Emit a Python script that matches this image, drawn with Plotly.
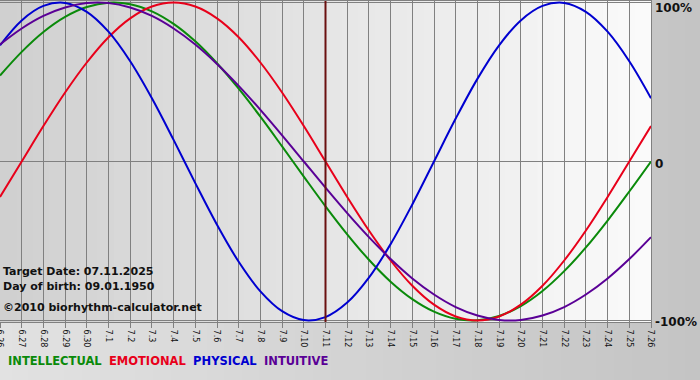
import plotly.graph_objects as go

# ---- data ----
day_labels = ["6.26", "6.27", "6.28", "6.29", "6.30",
              "7.1", "7.2", "7.3", "7.4", "7.5", "7.6", "7.7", "7.8", "7.9", "7.10",
              "7.11", "7.12", "7.13", "7.14", "7.15", "7.16", "7.17", "7.18", "7.19",
              "7.20", "7.21", "7.22", "7.23", "7.24", "7.25", "7.26"]

intellectual = [0.541, 0.690, 0.815, 0.910, 0.972, 0.999, 0.990, 0.945, 0.866, 0.756,
                0.618, 0.458, 0.282, 0.095, -0.095, -0.282, -0.458, -0.618, -0.756, -0.866,
                -0.945, -0.990, -0.999, -0.972, -0.910, -0.815, -0.690, -0.541, -0.372, -0.189,
                0.0]
emotional = [-0.223, 0.0, 0.223, 0.434, 0.623, 0.782, 0.901, 0.975, 1.0, 0.975,
             0.901, 0.782, 0.623, 0.434, 0.223, 0.0, -0.223, -0.434, -0.623, -0.782,
             -0.901, -0.975, -1.0, -0.975, -0.901, -0.782, -0.623, -0.434, -0.223, 0.0,
             0.223]
physical = [0.731, 0.888, 0.979, 0.998, 0.942, 0.817, 0.631, 0.398, 0.136, -0.136,
            -0.398, -0.631, -0.817, -0.942, -0.998, -0.979, -0.888, -0.731, -0.520, -0.270,
            0.0, 0.270, 0.520, 0.731, 0.888, 0.979, 0.998, 0.942, 0.817, 0.631,
            0.398]
intuitive = [0.736, 0.837, 0.916, 0.969, 0.997, 0.997, 0.969, 0.916, 0.837, 0.736,
             0.614, 0.476, 0.325, 0.165, 0.0, -0.165, -0.325, -0.476, -0.614, -0.736,
             -0.837, -0.916, -0.969, -0.997, -0.997, -0.969, -0.916, -0.837, -0.736, -0.614,
             -0.476]

series_names = ["INTELLECTUAL", "EMOTIONAL", "PHYSICAL", "INTUITIVE"]
series_colors = ["#0a8a0a", "#e8001a", "#0000d0", "#5a0096"]
target_label = "7.11"
target_text = "Target Date: 07.11.2025"
birth_text = "Day of birth: 09.01.1950"
copyright_text = "\u00a92010 biorhythm-calculator.net"
y_labels = ["100%", "0", "-100%"]
y_values = [1, 0, -1]

xs = list(range(len(day_labels)))
target_x = day_labels.index(target_label)

fig = go.Figure()
for name, vals, col in zip(series_names, [intellectual, emotional, physical, intuitive], series_colors):
    fig.add_trace(go.Scatter(x=xs, y=vals, mode="lines", name=name,
                             line=dict(color=col, width=2, shape="spline"),
                             showlegend=False, hoverinfo="skip"))

shapes = []


def mix(c1, c2, t):
    return "rgb(%d,%d,%d)" % tuple(round(a + (b - a) * t) for a, b in zip(c1, c2))


# outer background gradient
N = 40
for i in range(N):
    shapes.append(dict(type="rect", xref="paper", yref="paper",
                       x0=-0.01 + i * (1.09 / N), x1=-0.01 + (i + 1) * (1.09 / N) + 0.002,
                       y0=-0.2, y1=1.05, layer="below", line=dict(width=0),
                       fillcolor=mix((226, 226, 226), (196, 196, 196), i / (N - 1))))
# plot area gradient
for i in range(N):
    shapes.append(dict(type="rect", xref="paper", yref="paper",
                       x0=i / N, x1=(i + 1) / N + 0.001, y0=0, y1=1,
                       layer="below", line=dict(width=0),
                       fillcolor=mix((208, 208, 208), (250, 250, 250), i / (N - 1))))
# target day line
shapes.append(dict(type="line", xref="x", yref="paper", x0=target_x, x1=target_x,
                   y0=0, y1=1, layer="above", line=dict(color="#6a1010", width=2)))

annotations = []
for lab, yv, ys in zip(y_labels, y_values, [-5, -2, -2]):
    annotations.append(dict(xref="paper", yref="y", x=1, y=yv, xanchor="left",
                            xshift=2, yshift=ys, text="<b>%s</b>" % lab, showarrow=False,
                            font=dict(family="DejaVu Sans", size=12, color="#111111")))

for txt, yp in zip([target_text, birth_text, copyright_text], [271, 286, 307]):
    annotations.append(dict(xref="paper", yref="paper", x=0, y=1 - (yp - 1) / 321.0,
                            xanchor="left", yanchor="middle", xshift=1,
                            text="<b>%s</b>" % txt, showarrow=False,
                            font=dict(family="DejaVu Sans", size=11, color="#111111")))

legend_html = "&nbsp;&nbsp;".join('<span style="color:%s"><b>%s</b></span>' % (c, n)
                                  for n, c in zip(series_names, series_colors))
annotations.append(dict(xref="paper", yref="paper", x=0, y=-(361 - 322) / 321.0,
                        xanchor="left", yanchor="middle", xshift=6, text=legend_html,
                        showarrow=False, font=dict(family="DejaVu Sans", size=11.5)))

fig.update_layout(
    width=700, height=380,
    margin=dict(l=0, r=49, t=1, b=58),
    paper_bgcolor="#c8c8c8", plot_bgcolor="rgba(0,0,0,0)",
    shapes=shapes, annotations=annotations,
    showlegend=False,
    xaxis=dict(range=[0, len(day_labels) - 1], tickvals=xs, ticktext=day_labels,
               tickangle=90, ticks="outside", ticklen=5, tickcolor="#808080",
               showgrid=True, gridcolor="#808080", gridwidth=1,
               showline=True, linecolor="#808080", mirror=True, zeroline=False,
               tickfont=dict(family="DejaVu Sans", size=8, color="#111111"),
               ticklabeloverflow="allow",
               automargin=False, fixedrange=True),
    yaxis=dict(range=[-1.01, 1.01], tickvals=[-1, 0, 1], showticklabels=False,
               showgrid=True, gridcolor="#808080", gridwidth=1, zeroline=False,
               showline=True, linecolor="#808080", mirror=True,
               automargin=False, fixedrange=True),
)

fig.write_html("out.html", config={"displayModeBar": False, "staticPlot": True},
               post_script="document.body.style.margin='0';")
